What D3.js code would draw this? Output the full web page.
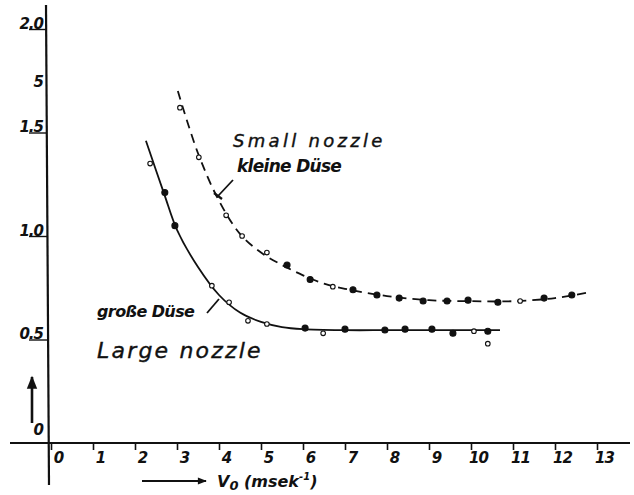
<!DOCTYPE html>
<html>
<head>
<meta charset="utf-8">
<script src="https://cdn.jsdelivr.net/npm/d3@7"></script>
<style>
  html, body { margin: 0; padding: 0; background: #fff; }
  svg { display: block; }
  text { font-family: "DejaVu Sans", "Liberation Sans", sans-serif; font-style: italic; fill: #111; }
</style>
</head>
<body>
<svg id="chart" width="634" height="495"></svg>
<script>
// x axis ticks (jet velocity v0, m/s)
const xTicks = [0, 1, 2, 3, 4, 5, 6, 7, 8, 9, 10, 11, 12, 13];
// y axis ticks and their handwritten labels
const yTicks = [0, 0.5, 1.0, 1.5, 1.75, 2.0];
const yTickLabels = ["0", "0.5", "1.0", "1.5", "5", "2.0"];

// Large nozzle (große Düse): measured points, v0 and value, filled flag
const largeV = [2.36, 2.71, 2.95, 3.83, 4.24, 4.69, 5.14, 6.05, 6.48, 7.0, 7.95, 8.43, 9.07, 9.57, 10.07, 10.4, 10.4];
const largeY = [1.35, 1.21, 1.05, 0.76, 0.68, 0.59, 0.575, 0.555, 0.53, 0.55, 0.546, 0.55, 0.55, 0.53, 0.54, 0.54, 0.48];
const largeFilled = [0, 1, 1, 0, 0, 0, 0, 1, 0, 1, 1, 1, 1, 1, 0, 1, 0];
// Large nozzle: drawn curve
const largeCurveV = [2.26, 2.7, 3.0, 3.5, 4.0, 4.5, 5.0, 5.5, 6.0, 7.0, 8.0, 9.0, 10.0, 10.69];
const largeCurveY = [1.46, 1.2, 1.03, 0.85, 0.715, 0.63, 0.585, 0.56, 0.55, 0.545, 0.545, 0.545, 0.545, 0.545];

// Small nozzle (kleine Düse): measured points
const smallV = [3.07, 3.52, 4.17, 4.55, 5.14, 5.62, 6.17, 6.71, 7.19, 7.76, 8.29, 8.86, 9.43, 9.93, 10.64, 11.17, 11.74, 12.4];
const smallY = [1.62, 1.38, 1.10, 1.0, 0.92, 0.86, 0.79, 0.755, 0.74, 0.715, 0.70, 0.686, 0.686, 0.69, 0.68, 0.686, 0.70, 0.715];
const smallFilled = [0, 0, 0, 0, 0, 1, 1, 0, 1, 1, 1, 1, 1, 1, 1, 0, 1, 1];
// Small nozzle: drawn curve
const smallCurveV = [3.02, 3.5, 4.0, 4.5, 5.0, 5.5, 6.0, 6.5, 7.0, 8.0, 9.0, 10.0, 11.0, 12.0, 12.74];
const smallCurveY = [1.70, 1.40, 1.17, 1.01, 0.92, 0.86, 0.81, 0.77, 0.745, 0.71, 0.69, 0.685, 0.685, 0.70, 0.725];

const svg = d3.select("#chart");
const x = d3.scaleLinear().domain([0, 13]).range([51, 597]);
const y = d3.scaleLinear().domain([0, 2]).range([443, 29]);
const ink = "#111";

// axis lines, extended past the plotting area
svg.append("line").attr("x1", 10).attr("x2", 630).attr("y1", y(0)).attr("y2", y(0))
  .attr("stroke", ink).attr("stroke-width", 2);
svg.append("line").attr("x1", x(0) - 5).attr("x2", x(0) - 2).attr("y1", 5).attr("y2", 485)
  .attr("stroke", ink).attr("stroke-width", 2.2);

// x ticks: short drop below the axis, number just to the right
const xAxis = d3.axisBottom(x).tickValues(xTicks).tickSize(7).tickFormat(d3.format("d"));
const gx = svg.append("g").attr("transform", `translate(0,${y(0)})`).call(xAxis);
gx.select(".domain").remove();
gx.selectAll(".tick line").attr("stroke", ink).attr("stroke-width", 1.6);
gx.selectAll(".tick text")
  .attr("x", 7).attr("y", 9).attr("dy", "0.71em")
  .style("font-size", "15px").style("font-weight", "bold").style("font-style", "italic")
  .style("letter-spacing", "-1px")
  .attr("fill", ink);

// y ticks: underline running into the axis, label above it
const yAxis = d3.axisLeft(y).tickValues(yTicks).tickSize(0)
  .tickFormat((d, i) => yTickLabels[i]);
const gy = svg.append("g").attr("transform", `translate(${x(0) - 4},0)`).call(yAxis);
gy.select(".domain").remove();
gy.selectAll(".tick").each(function(d) {
  const g = d3.select(this);
  const plain = d === 0 || d === 1.75;
  if (!plain) {
    g.append("line").attr("x1", -18).attr("x2", 0).attr("y1", 0).attr("y2", 0)
      .attr("stroke", ink).attr("stroke-width", 1.4);
  }
});
gy.selectAll(".tick text")
  .attr("x", -4).attr("dy", d => d === 1.75 ? "0.35em" : (d === 0 ? "-0.6em" : "-0.05em"))
  .style("font-size", "15px").style("font-weight", "bold").style("font-style", "italic")
  .style("letter-spacing", "-1px")
  .attr("fill", ink);

// axis direction arrows
const defs = svg.append("defs");
defs.append("marker").attr("id", "head").attr("viewBox", "0 0 10 10")
  .attr("refX", 9).attr("refY", 5).attr("markerWidth", 7).attr("markerHeight", 5)
  .attr("orient", "auto")
  .append("path").attr("d", "M0,1 L10,5 L0,9 Z").attr("fill", ink);
svg.append("line").attr("x1", 142).attr("x2", 206).attr("y1", 481).attr("y2", 481)
  .attr("stroke", ink).attr("stroke-width", 1.8).attr("marker-end", "url(#head)");
svg.append("line").attr("x1", 32).attr("x2", 32).attr("y1", 423).attr("y2", 377)
  .attr("stroke", ink).attr("stroke-width", 2.6).attr("marker-end", "url(#head)");

const xLabel = svg.append("text").attr("x", 217).attr("y", 487)
  .style("font-size", "16px").style("font-weight", "bold");
xLabel.append("tspan").text("V");
xLabel.append("tspan").attr("dy", 3).style("font-size", "13px").text("0");
xLabel.append("tspan").attr("dy", -3).text(" (msek");
xLabel.append("tspan").attr("dy", -7).style("font-size", "10px").text("-1");
xLabel.append("tspan").attr("dy", 7).text(")");

// fitted curves
const line = d3.line().x(d => x(d[0])).y(d => y(d[1])).curve(d3.curveCatmullRom.alpha(0.5));
svg.append("path").datum(largeCurveV.map((v, i) => [v, largeCurveY[i]]))
  .attr("d", line).attr("fill", "none").attr("stroke", ink).attr("stroke-width", 1.8);
svg.append("path").datum(smallCurveV.map((v, i) => [v, smallCurveY[i]]))
  .attr("d", line).attr("fill", "none").attr("stroke", ink).attr("stroke-width", 1.8)
  .attr("stroke-dasharray", "9,6");

// measured points
function points(vs, ys, filled) {
  svg.append("g").selectAll("circle").data(vs.map((v, i) => [v, ys[i], filled[i]]))
    .join("circle")
    .attr("cx", d => x(d[0])).attr("cy", d => y(d[1]))
    .attr("r", d => d[2] ? 3 : 2.3)
    .attr("fill", d => d[2] ? ink : "#fff")
    .attr("stroke", ink).attr("stroke-width", 1.1);
}
points(largeV, largeY, largeFilled);
points(smallV, smallY, smallFilled);

// curve annotations
svg.append("text").attr("x", 233).attr("y", 147).style("font-size", "18px")
  .style("stroke", ink).style("stroke-width", "0.4px")
  .style("letter-spacing", "3.3px").text("Small nozzle");
svg.append("text").attr("x", 237).attr("y", 172).style("font-size", "17px")
  .style("font-weight", "bold").style("letter-spacing", "-0.7px").text("kleine Düse");
svg.append("line").attr("x1", 233).attr("y1", 180).attr("x2", 218).attr("y2", 196)
  .attr("stroke", ink).attr("stroke-width", 1.8);
svg.append("line").attr("x1", 214).attr("y1", 193).attr("x2", 222).attr("y2", 199)
  .attr("stroke", ink).attr("stroke-width", 2.2);

svg.append("text").attr("x", 97).attr("y", 317).style("font-size", "16px")
  .style("font-weight", "bold").style("letter-spacing", "-0.6px").text("große Düse");
svg.append("line").attr("x1", 207).attr("y1", 313).attr("x2", 219).attr("y2", 299)
  .attr("stroke", ink).attr("stroke-width", 1.8);
svg.append("text").attr("x", 97).attr("y", 358).style("font-size", "22px")
  .style("stroke", ink).style("stroke-width", "0.4px")
  .style("letter-spacing", "2.2px").text("Large nozzle");
</script>
</body>
</html>
